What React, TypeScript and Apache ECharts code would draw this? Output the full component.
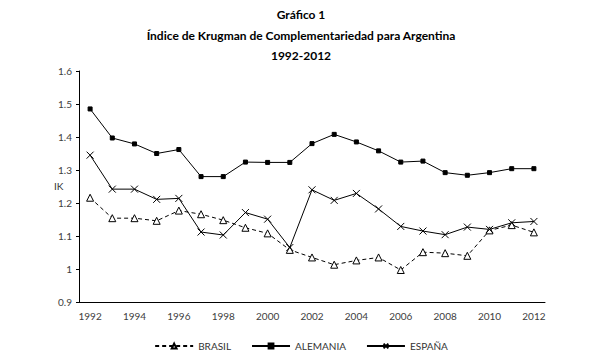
import React, { useEffect, useRef } from "react";
import * as echarts from "echarts";

const years = ["1992","1993","1994","1995","1996","1997","1998","1999","2000","2001","2002","2003","2004","2005","2006","2007","2008","2009","2010","2011","2012"];
const brasil = [1.216,1.154,1.154,1.146,1.177,1.166,1.148,1.125,1.108,1.058,1.035,1.013,1.026,1.035,0.997,1.051,1.048,1.04,1.117,1.133,1.111];
const alemania = [1.485,1.397,1.379,1.35,1.362,1.28,1.28,1.324,1.323,1.323,1.38,1.408,1.385,1.358,1.324,1.327,1.292,1.284,1.292,1.304,1.304];
const espana = [1.345,1.242,1.242,1.211,1.214,1.112,1.103,1.171,1.151,1.065,1.24,1.208,1.229,1.182,1.129,1.115,1.104,1.127,1.12,1.14,1.144];
const yTicks = [0.9,1,1.1,1.2,1.3,1.4,1.5,1.6];
const yName = "IK";

const font = "Lato, 'Open Sans', sans-serif";
const crossPath = "path://M0,0L10,10M10,0L0,10";
const titleStyle = { fontFamily: font, fontSize: 12, fontWeight: "bold", color: "#000" };

export default function App() {
  const ref = useRef<HTMLDivElement>(null);
  useEffect(() => {
    const chart = echarts.init(ref.current!, null, { renderer: "svg" });
    chart.setOption({
      animation: false,
      backgroundColor: "#fff",
      title: [
        { text: "Gráfico 1", left: "center", top: 3, textStyle: titleStyle },
        { text: "Índice de Krugman de Complementariedad para Argentina", left: "center", top: 24, textStyle: titleStyle },
        { text: "1992-2012", left: "center", top: 44, textStyle: titleStyle },
      ],
      graphic: [
        {
          type: "text", left: 54, top: 181,
          style: { text: yName, fontFamily: font, fontSize: 10, fill: "#333" },
        },
      ],
      legend: {
        bottom: 2,
        left: "center",
        itemWidth: 38,
        itemHeight: 6,
        itemGap: 20,
        textStyle: { fontFamily: font, fontSize: 10, color: "#333" },
        data: ["BRASIL", "ALEMANIA", "ESPAÑA"],
      },
      grid: { left: 79, right: 57, top: 71, bottom: 56 },
      xAxis: {
        type: "category",
        data: years,
        boundaryGap: true,
        axisLine: { lineStyle: { color: "#000", width: 1 } },
        axisTick: { interval: 0, length: 3, lineStyle: { color: "#000" } },
        axisLabel: { interval: 1, fontFamily: font, fontSize: 10, color: "#404040", margin: 9 },
      },
      yAxis: {
        type: "value",
        min: 0.9,
        max: 1.6,
        interval: 0.1,
        axisLine: { show: true, lineStyle: { color: "#000", width: 1 } },
        axisTick: { show: true, length: 3, lineStyle: { color: "#000" } },
        splitLine: { show: false },
        axisLabel: {
          fontFamily: font, fontSize: 10, color: "#404040", margin: 7,
          formatter: (v: number) => {
            const t = yTicks.find((x) => Math.abs(x - v) < 1e-6);
            return t === undefined ? "" : String(t);
          },
        },
      },
      series: [
        {
          name: "BRASIL", type: "line", data: brasil,
          symbol: "triangle", symbolSize: 7,
          lineStyle: { color: "#000", width: 1, type: [4, 3] },
          itemStyle: { color: "#fff", borderColor: "#000", borderWidth: 1 },
        },
        {
          name: "ALEMANIA", type: "line", data: alemania,
          symbol: "rect", symbolSize: 4,
          lineStyle: { color: "#000", width: 1 },
          itemStyle: { color: "#000", borderColor: "#000", borderWidth: 1 },
        },
        {
          name: "ESPAÑA", type: "line", data: espana,
          symbol: crossPath, symbolSize: 7,
          lineStyle: { color: "#000", width: 1 },
          itemStyle: { color: "none", borderColor: "#000", borderWidth: 1 },
        },
      ],
    });
    return () => chart.dispose();
  }, []);
  return <div ref={ref} style={{ position: "absolute", left: 0, top: 0, width: 602, height: 358 }} />;
}
